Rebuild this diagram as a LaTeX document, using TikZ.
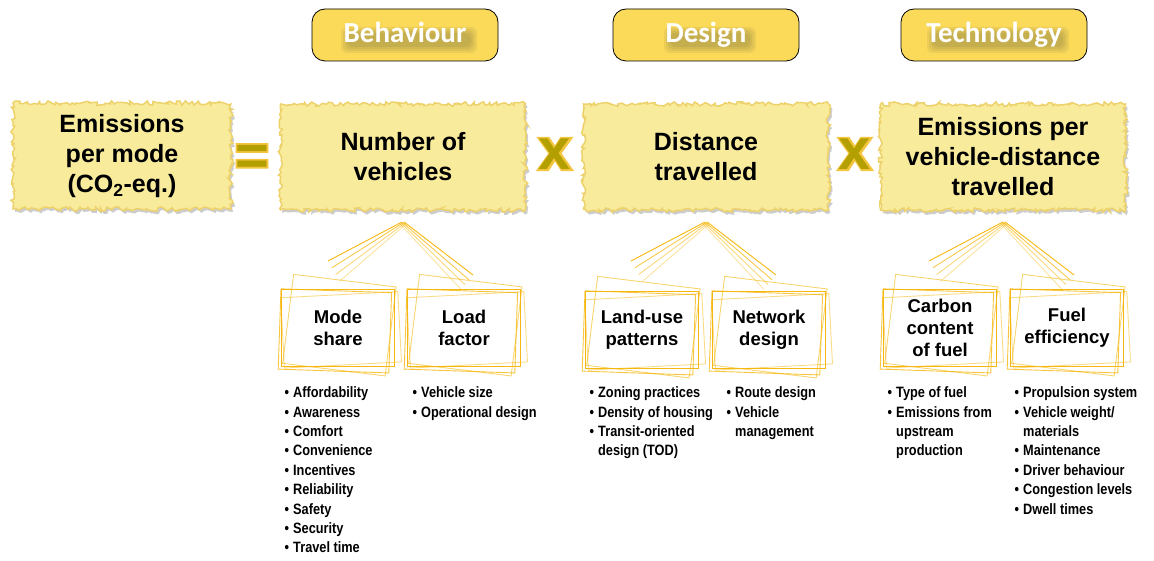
\documentclass[tikz,border=0pt]{standalone}
\usepackage{fontspec}
\setmainfont{Liberation Sans}
\newfontfamily\hdrfont{Carlito}
\newfontfamily\listfont[FakeStretch=0.85]{Liberation Sans}
\newfontfamily\glowfont[FakeBold=6]{Liberation Sans Bold}
\usetikzlibrary{decorations.pathmorphing}
\definecolor{hdr}{HTML}{FBDA5A}
\definecolor{paper}{HTML}{F8EC9C}
\definecolor{rim}{HTML}{EDD26C}
\definecolor{sketch}{HTML}{F5B710}
\definecolor{sign}{HTML}{B3A000}
\definecolor{glow}{HTML}{F3C53F}
\newcommand{\bul}{\strut\llap{\textbullet\hspace{4pt}}}

\begin{document}
\begin{tikzpicture}[x=1pt, y=-1pt,
  header/.style={draw=black, line width=0.8pt, fill=hdr, rounded corners=13pt,
    minimum width=186pt, minimum height=52pt},
  hdrtext/.style={anchor=base, text=white, font=\hdrfont\bfseries\fontsize{29}{30}\selectfont},
  paperbox/.style={decorate, decoration={random steps, segment length=2.5pt, amplitude=2.2pt},
    fill=paper, draw=rim, line width=1.5pt,
    preaction={fill=black, opacity=.2, transform canvas={shift={(2pt,-3pt)}}},
    minimum height=106pt, align=center, font=\bfseries\fontsize{25}{30}\selectfont},
  subbox/.style={minimum width=113pt, minimum height=76pt, align=center,
    font=\bfseries\fontsize{18.5}{22}\selectfont},
  sketchline/.style={draw=sketch, line width=0.9pt},
  listtext/.style={anchor=north west, align=left, inner sep=0pt,
    font=\listfont\bfseries\fontsize{15}{19.4}\selectfont},
  signtext/.style={font=\bfseries\fontsize{58}{58}\selectfont, text=sign},
  signglow/.style={font=\glowfont\fontsize{58}{58}\selectfont, text=glow}]
  \useasboundingbox (0,0) rectangle (1154,561);
  \pgfmathsetseed{7}

  % headers, with a soft shadow under the lettering
  \foreach \n/\x/\w/\t in {beh/405/124/Behaviour, des/706/80/Design, tec/994/130/Technology}{
    \node[header] (\n) at (\x,35) {};
    \foreach \k in {0,...,3}
      \fill[black!80, opacity=.07, rounded corners=6pt]
        ([shift={(-\w/2-2*\k+4,-2-2*\k)}]\n) rectangle ([shift={(\w/2+2*\k+4,12+2*\k)}]\n);
    \node[hdrtext] (\n tx) at (\x,43) {\t};
  }

  % equation
  \node[paperbox, minimum width=218pt] (epm) at (122,156) {Emissions\\per mode\\(CO\textsubscript{2}-eq.)};
  \node[paperbox, minimum width=245pt] (nov) at (403,157) {Number of\\vehicles};
  \node[paperbox, minimum width=245pt] (dtr) at (706,157) {Distance\\travelled};
  \node[paperbox, minimum width=245pt] (epv) at (1003,157) {Emissions per\\vehicle-distance\\travelled};

  \node[signglow] (eqg) at (252,160) {=};
  \node[signtext] (eq) at (252,160) {=};
  \foreach \n/\x in {ta/555, tb/855}{
    \node[signglow] (\n g) at (\x,154) {x};
    \node[signtext] (\n) at (\x,154) {x};
  }

  % fans
  \coordinate (fanNV) at (403,222);
  \coordinate (fanDT) at (706,222);
  \coordinate (fanTE) at (1004,222);
  \foreach \f in {fanNV,fanDT,fanTE}
    \foreach \i/\o in {0/1,1/.75,2/.55,3/.4}{
      \draw[sketchline, opacity=\o] ([shift={(\i*1.5-1,\i*0.5)}]\f) -- ++(-74+\i*2.3,39+\i*6.3);
      \draw[sketchline, opacity=\o] ([shift={(1-\i*1.5,\i*0.5)}]\f) -- ++(69-\i*2.5,53+\i*4.3);
    }

  % factors
  \node[subbox] (mode) at (338,328) {Mode\\share};
  \node[subbox] (load) at (464,328) {Load\\factor};
  \node[subbox] (land) at (642,330) {Land-use\\patterns};
  \node[subbox] (net) at (769,330) {Network\\design};
  \node[subbox] (carb) at (940,328) {Carbon\\content\\of fuel};
  \node[subbox] (fuel) at (1067,328) {Fuel\\efficiency};
  \foreach \n in {mode,load,land,net,carb,fuel}
    \foreach \a/\dx/\dy/\o in {0/0/0/1, -7/1/-3/.6, -2/-3/3/.8, 3/3/2/.5}
      \draw[sketchline, opacity=\o, rotate around={\a:(\n.center)}]
        ([shift={(\dx,\dy)}]\n.south west) rectangle ([shift={(\dx,\dy)}]\n.north east);

  % lists
  \node[listtext] (modelist) at (293,384) {\bul Affordability\\\bul Awareness\\\bul Comfort\\
    \bul Convenience\\\bul Incentives\\\bul Reliability\\\bul Safety\\\bul Security\\\bul Travel time};
  \node[listtext] (loadlist) at (421,384) {\bul Vehicle size\\\bul Operational design};
  \node[listtext] (landlist) at (598,384) {\bul Zoning practices\\\bul Density of housing\\
    \bul Transit-oriented\\\strut design (TOD)};
  \node[listtext] (netlist) at (735,384) {\bul Route design\\\bul Vehicle\\\strut management};
  \node[listtext] (carblist) at (896,384) {\bul Type of fuel\\\bul Emissions from\\\strut upstream\\\strut production};
  \node[listtext] (fuellist) at (1023,384) {\bul Propulsion system\\\bul Vehicle weight/\\\strut materials\\
    \bul Maintenance\\\bul Driver behaviour\\\bul Congestion levels\\\bul Dwell times};
\end{tikzpicture}
\end{document}
